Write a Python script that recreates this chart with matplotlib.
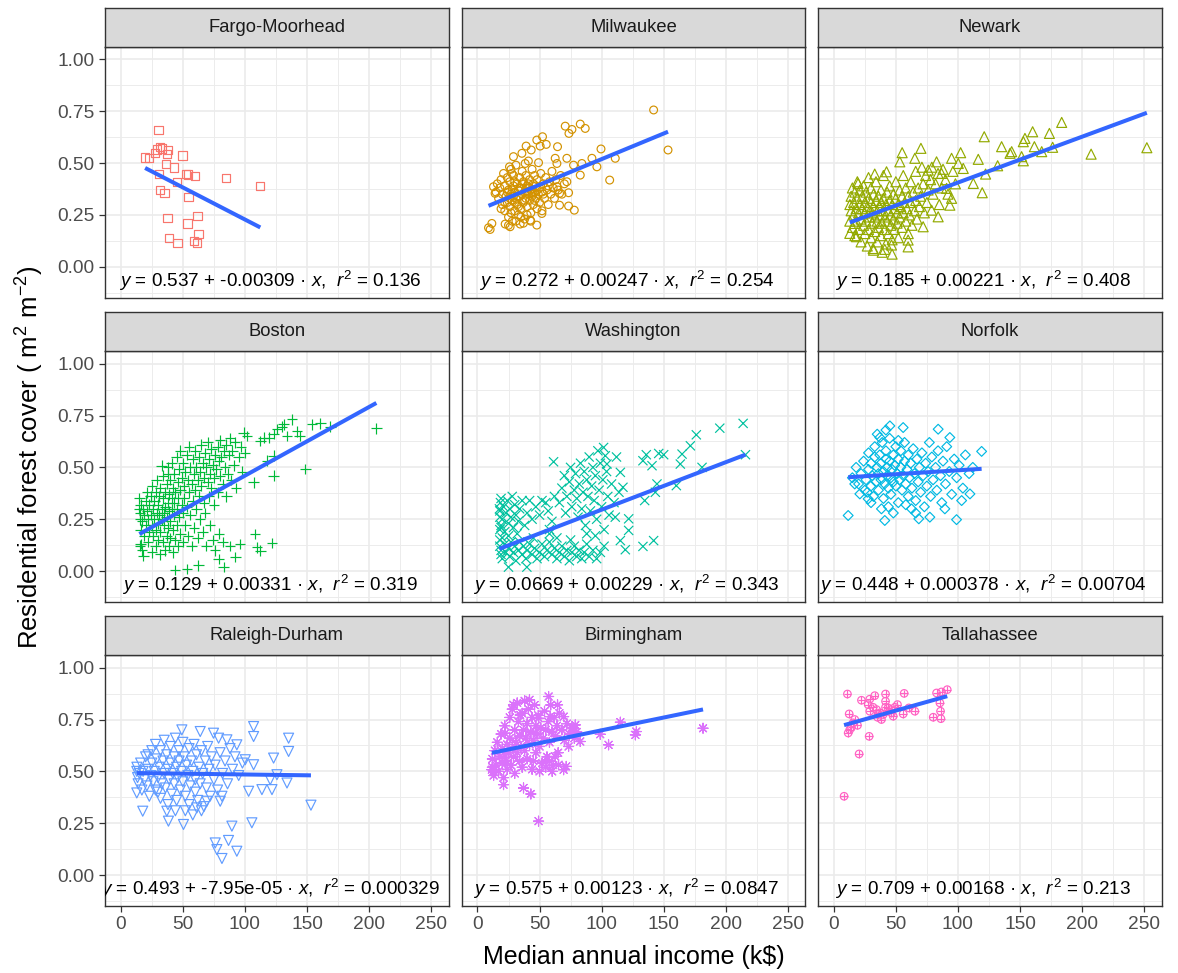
import numpy as np
import matplotlib
matplotlib.use("Agg")
import matplotlib.pyplot as plt

plt.rcParams['font.family'] = ['Liberation Sans', 'DejaVu Sans']
plt.rcParams['mathtext.fontset'] = 'custom'
plt.rcParams['mathtext.rm'] = 'Liberation Sans'
plt.rcParams['mathtext.it'] = 'Liberation Sans:italic'
plt.rcParams['mathtext.bf'] = 'Liberation Sans:bold'

# ---------------- data ----------------
cities = ["Fargo-Moorhead", "Milwaukee", "Newark", "Boston", "Washington",
          "Norfolk", "Raleigh-Durham", "Birmingham", "Tallahassee"]
colors = ["#F8766D", "#D39200", "#93AA00", "#00BA38", "#00C19F",
          "#00B9E3", "#619CFF", "#DB72FB", "#FF61C3"]
intercepts = [0.537, 0.272, 0.185, 0.129, 0.0669, 0.448, 0.493, 0.575, 0.709]
slopes = [-0.00309, 0.00247, 0.00221, 0.00331, 0.00229, 0.000378, -7.95e-05, 0.00123, 0.00168]
intercept_labels = ["0.537", "0.272", "0.185", "0.129", "0.0669", "0.448", "0.493", "0.575", "0.709"]
slope_labels = ["-0.00309", "0.00247", "0.00221", "0.00331", "0.00229", "0.000378", "-7.95e-05", "0.00123", "0.00168"]
r2_labels = ["0.136", "0.254", "0.408", "0.319", "0.343", "0.00704", "0.000329", "0.0847", "0.213"]

x_ticks = [0, 50, 100, 150, 200, 250]
x_tick_labels = ["0", "50", "100", "150", "200", "250"]
y_ticks = [0.00, 0.25, 0.50, 0.75, 1.00]
y_tick_labels = ["0.00", "0.25", "0.50", "0.75", "1.00"]

fargo = [(30.4,0.659),(31.7,0.576),(29.0,0.566),(33.0,0.571),(37.9,0.563),(37.0,0.543),(27.7,0.547),
         (19.6,0.527),(23.0,0.523),(49.7,0.537),(36.3,0.494),(43.0,0.479),(30.9,0.447),(45.2,0.410),
         (52.7,0.447),(54.3,0.445),(59.9,0.439),(84.7,0.429),(112.4,0.389),(31.7,0.370),(35.2,0.357),
         (54.6,0.338),(37.6,0.236),(53.8,0.209),(61.8,0.244),(62.6,0.158),(39.0,0.140),(45.7,0.116),
         (59.1,0.125),(61.3,0.116)]

milwaukee = [(141.9,0.756),(153.5,0.563),(70.7,0.678),(73.7,0.643),(76.1,0.662),(82.8,0.688),(86.8,0.667),
             (52.4,0.627),(47.8,0.611),(50.5,0.582),(55.4,0.590),(64.5,0.579),(39.2,0.582),(43.3,0.563),
             (35.8,0.547),(29.0,0.531),(99.5,0.568),(111.0,0.523),(92.2,0.523),(96.2,0.482),(106.5,0.418),
             (82.8,0.442),(77.4,0.490),(84.1,0.498),(72.0,0.523),(62.6,0.523),(64.0,0.498),(72.0,0.410),
             (73.4,0.357),(66.1,0.297),(73.4,0.293),(78.0,0.273),(66.1,0.354),(64.0,0.386),(8.9,0.188),
             (11.6,0.209),(10.2,0.180),(47.8,0.201),(26.3,0.193),(22.3,0.206),(34.4,0.206),(42.5,0.225),
             (51.9,0.257),(12.9,0.386),(14.2,0.354),(49.2,0.502),(38.4,0.498),(25.8,0.482),(27.7,0.450),
             (15,0.36),(16,0.40),(17,0.33),(18,0.38),(19,0.42),(20,0.35),(20,0.30),(21,0.45),(22,0.39),
             (22,0.27),(23,0.34),(24,0.43),(24,0.31),(25,0.37),(25,0.24),(26,0.41),(26,0.29),(27,0.35),
             (27,0.47),(28,0.32),(28,0.22),(29,0.39),(29,0.44),(30,0.36),(30,0.27),(31,0.33),(31,0.49),
             (32,0.40),(32,0.30),(33,0.37),(33,0.25),(34,0.43),(34,0.34),(35,0.38),(35,0.28),(36,0.46),
             (36,0.35),(37,0.41),(37,0.31),(38,0.36),(38,0.23),(39,0.44),(39,0.33),(40,0.39),(40,0.29),
             (41,0.35),(41,0.51),(42,0.42),(42,0.32),(43,0.37),(43,0.26),(44,0.47),(44,0.34),(45,0.40),
             (45,0.30),(46,0.36),(46,0.44),(47,0.33),(47,0.39),(48,0.28),(48,0.42),(49,0.35),(50,0.38),
             (50,0.31),(51,0.45),(52,0.36),(52,0.27),(53,0.40),(54,0.33),(55,0.43),(56,0.37),(57,0.30),
             (58,0.41),(59,0.35),(60,0.46),(61,0.38),(62,0.33),(63,0.42),(65,0.37),(67,0.44),(68,0.35),
             (70,0.40),(28,0.37),(30,0.41),(32,0.34),(34,0.38),(36,0.40),(38,0.32),(40,0.36),(42,0.38),
             (44,0.36),(46,0.32),(30,0.31),(33,0.29),(27,0.26),(35,0.24),(37,0.21),(25,0.20),(31,0.22),
             (40,0.25),(43,0.22),(22,0.31),(19,0.28),(24,0.36),(26,0.33),(29,0.34),(39,0.38),(41,0.40),
             (45,0.35),(48,0.37),(53,0.35),(57,0.39)]

newark = [(252.2,0.574),(207.3,0.543),(183.6,0.696),(173.7,0.643),(160.2,0.651),(154.0,0.619),(152.7,0.603),
          (161.6,0.579),(176.3,0.576),(167.5,0.555),(151.3,0.531),(143.3,0.555),(135.2,0.579),(142.0,0.547),
          (152.7,0.511),(132.0,0.487),(121.2,0.627),(116.4,0.518),(122.3,0.447),(112.4,0.402),(119.6,0.357),
          (102.2,0.550),(94.9,0.523),(100.3,0.498),(104.3,0.474),(82.8,0.506),(70.2,0.571),(55.1,0.550),
          (53.2,0.506),(65.3,0.523),(76.1,0.466),(86.8,0.450),(94.9,0.330),(93.5,0.297),(90.9,0.378),
          (12.9,0.161),(18.3,0.145),(31.7,0.088),(41.1,0.084),(47.0,0.061),(59.9,0.096),(46.5,0.105),
          (16.9,0.209),(19.6,0.402),(33.0,0.447),(42.5,0.458),(78.8,0.273),(84.1,0.241),(72.0,0.193),
          (59.9,0.129),
          (12.9,0.22),(13,0.30),(14,0.27),(14,0.34),(15,0.19),(15,0.38),(16,0.25),(16,0.31),(17,0.15),
          (17,0.36),(18,0.22),(18,0.28),(19,0.33),(19,0.41),(20,0.18),(20,0.26),(21,0.30),(21,0.37),
          (22,0.12),(22,0.23),(23,0.28),(23,0.34),(24,0.20),(24,0.39),(25,0.16),(25,0.26),(25,0.31),
          (26,0.22),(26,0.36),(27,0.10),(27,0.29),(28,0.18),(28,0.33),(28,0.43),(29,0.24),(29,0.27),
          (30,0.14),(30,0.31),(30,0.38),(31,0.21),(31,0.26),(32,0.08),(32,0.29),(32,0.35),(33,0.17),
          (33,0.24),(34,0.32),(34,0.41),(35,0.12),(35,0.27),(35,0.22),(36,0.19),(36,0.34),(37,0.29),
          (37,0.25),(38,0.15),(38,0.37),(38,0.31),(39,0.21),(39,0.07),(40,0.27),(40,0.33),(40,0.44),
          (41,0.18),(41,0.24),(42,0.30),(42,0.11),(43,0.36),(43,0.22),(44,0.27),(44,0.16),(45,0.32),
          (45,0.39),(46,0.20),(46,0.25),(47,0.13),(47,0.30),(48,0.35),(48,0.23),(49,0.28),(49,0.18),
          (50,0.33),(50,0.41),(51,0.26),(51,0.21),(52,0.30),(52,0.14),(53,0.37),(53,0.24),(54,0.29),
          (55,0.19),(55,0.34),(56,0.44),(56,0.26),(57,0.31),(58,0.22),(58,0.38),(59,0.28),(60,0.16),
          (60,0.34),(61,0.25),(62,0.41),(62,0.31),(63,0.20),(64,0.36),(65,0.27),(66,0.46),(66,0.32),
          (67,0.23),(68,0.38),(69,0.29),(70,0.34),(71,0.48),(72,0.40),(73,0.26),(74,0.44),(75,0.31),
          (76,0.37),(78,0.42),(79,0.48),(80,0.35),(82,0.40),(84,0.45),(85,0.30),(87,0.38),(88,0.47),
          (90,0.42),(92,0.35),(96,0.46),(98,0.40)]

boston = [(205.9,0.688),(168.8,0.696),(160.8,0.712),(154.0,0.708),(137.9,0.732),(131.2,0.708),(125.8,0.684),
          (129.8,0.696),(141.9,0.673),(144.1,0.652),(133.9,0.652),(123.1,0.660),(115.1,0.644),(112.4,0.628),
          (119.1,0.644),(148.7,0.492),(123.1,0.460),(123.1,0.556),(117.7,0.532),(107.0,0.428),(108.3,0.179),
          (121.8,0.135),(112.4,0.099),(109.7,0.115),(92.2,0.067),(82.8,0.019),(78.8,0.059),(62.6,0.027),
          (53.2,0.011),(43.8,0.006),(18.3,0.075),(15.6,0.123),(33.0,0.508),(38.4,0.468),(101.6,0.652),
          (99.0,0.668),
          (15,0.30),(15.5,0.25),(16,0.13),(15,0.35),(15.5,0.28),(16,0.20),(16,0.32),(17,0.24),(17,0.10),
          (18,0.30),(19,0.27),(19,0.17),(20,0.34),(20,0.22),
          (21,0.29),(21,0.38),(22,0.25),(22,0.14),(23,0.32),(23,0.19),(24,0.36),(24,0.27),(25,0.22),
          (25,0.41),(25,0.09),(26,0.30),(26,0.17),(27,0.34),(27,0.25),(28,0.38),(28,0.20),(28,0.12),
          (29,0.28),(29,0.44),(30,0.32),(30,0.23),(30,0.15),
          (31,0.36),(31,0.27),(32,0.40),(32,0.19),(32,0.08),(33,0.30),(33,0.25),(34,0.46),(34,0.35),
          (34,0.14),(35,0.28),(35,0.22),(36,0.38),(36,0.31),(36,0.10),(37,0.42),(37,0.26),(37,0.17),
          (38,0.33),(38,0.50),(38,0.21),(39,0.37),(39,0.29),(39,0.12),(40,0.44),(40,0.24),(40,0.16),
          (41,0.35),(41,0.52),(41,0.30),(42,0.40),(42,0.20),(42,0.09),(43,0.47),(43,0.27),(43,0.33),
          (44,0.38),(44,0.15),(45,0.55),(45,0.30),(45,0.22),(46,0.43),(46,0.35),(46,0.12),(47,0.49),
          (47,0.26),(48,0.39),(48,0.18),(48,0.58),(49,0.32),(49,0.45),(50,0.52),(50,0.28),(50,0.14),
          (51,0.41),(51,0.35),(52,0.48),(52,0.22),(53,0.56),(53,0.31),(54,0.44),(54,0.17),(55,0.38),
          (55,0.60),(56,0.50),(56,0.27),(57,0.42),(57,0.12),(58,0.54),(58,0.34),(59,0.47),(59,0.21),
          (60,0.58),(60,0.39),
          (61,0.30),(61,0.50),(62,0.44),(62,0.16),(63,0.55),(63,0.36),(64,0.48),(64,0.25),(65,0.61),
          (65,0.41),(66,0.52),(66,0.19),(67,0.45),(67,0.33),(68,0.57),(68,0.28),(69,0.50),(69,0.12),
          (70,0.43),(70,0.62),
          (71,0.36),(71,0.54),(72,0.47),(72,0.22),(73,0.59),(73,0.40),(74,0.51),(74,0.15),(75,0.45),
          (75,0.32),(76,0.56),(76,0.10),(77,0.49),(78,0.60),(78,0.38),(79,0.53),(79,0.18),(80,0.46),
          (80,0.63),
          (81,0.55),(82,0.42),(82,0.14),(83,0.58),(84,0.50),(85,0.61),(85,0.36),(86,0.47),(87,0.56),
          (88,0.64),(88,0.12),(89,0.44),(90,0.58),(91,0.51),(92,0.62),(93,0.40),(95,0.55),(96,0.13),
          (97,0.60),(98,0.48),(100,0.57)]

washington = [(214.0,0.712),(215.9,0.561),(195.2,0.689),(176.3,0.657),(171.5,0.604),(164.8,0.564),
              (163.4,0.516),(160.2,0.412),(180.9,0.500),(150.0,0.561),(146.0,0.567),(136.0,0.561),
              (140.6,0.508),(133.3,0.532),(144.6,0.420),(143.3,0.380),(134.7,0.340),(141.9,0.147),
              (133.3,0.119),(121.8,0.252),(121.8,0.196),(119.1,0.103),(115.1,0.147),(111.0,0.260),
              (101.6,0.596),(61.3,0.527),(103.0,0.556),(115.1,0.476),(117.2,0.404),(104.3,0.516),
              (25.0,0.019),(39.8,0.019),
              (17.7,0.30),(18,0.26),(18.5,0.33),(19,0.22),(18,0.29),(19,0.35),(20,0.25),(21,0.31),
              (22,0.19),(23,0.28),(24,0.34),(25,0.23),(26,0.30),(27,0.26),(28,0.36),(29,0.21),(30,0.32),
              (31,0.27),(33,0.24),(34,0.30),(36,0.34),(38,0.22),(40,0.28),(42,0.34),(44,0.25),(47,0.31),
              (50,0.27),(52,0.34),(18,0.20),(25,0.17),(32,0.18),(19,0.21),(20,0.16),
              (18,0.12),(19,0.08),(18,0.15),(19,0.10),(20,0.06),(22,0.13),(23,0.09),(25,0.11),(26,0.07),
              (27,0.14),(29,0.09),(30,0.12),(31,0.05),(33,0.10),(34,0.14),(36,0.08),(37,0.12),(39,0.06),
              (40,0.10),(42,0.13),(44,0.08),(46,0.11),(48,0.06),(50,0.09),(52,0.13),(54,0.07),(56,0.10),
              (58,0.14),(60,0.08),(62,0.11),(64,0.06),(66,0.09),(68,0.12),(70,0.07),(72,0.10),(74,0.05),
              (76,0.09),(78,0.12),(80,0.07),(82,0.10),(84,0.06),(86,0.09),(88,0.13),(90,0.07),(93,0.10),
              (96,0.06),(99,0.09),(102,0.12),(58,0.18),(64,0.16),(45,0.16),(75,0.15),
              (66,0.33),(68,0.40),(70,0.46),(71,0.28),(72,0.36),(74,0.43),(75,0.50),(76,0.31),(78,0.39),
              (79,0.47),(80,0.35),(81,0.26),(82,0.42),(83,0.52),(84,0.30),(85,0.38),(86,0.48),(87,0.22),
              (88,0.44),(89,0.36),(90,0.55),(91,0.29),(92,0.41),(93,0.50),(94,0.34),(95,0.46),(96,0.25),
              (97,0.58),(98,0.39),(99,0.52),(100,0.31),(101,0.44),(102,0.20),(104,0.48),(105,0.36),
              (106,0.27),(108,0.42),(110,0.33),(112,0.55),(114,0.38),(60,0.24),(62,0.36),(57,0.29),
              (55,0.33),(58,0.20),(88,0.18),(95,0.17)]

norfolk = [(11.6,0.268),(119.1,0.577),(41.1,0.244),(98.9,0.248),(77.4,0.260),(68.5,0.252),(62.6,0.300),
           (38.4,0.300),(84.1,0.684),(55.9,0.692),(45.2,0.700),(37.1,0.644),(93.5,0.644),(109.7,0.372),
           (103.0,0.340),(89.5,0.300),(21.0,0.372),(16.9,0.420),(27.7,0.348),
           (15,0.45),(18,0.50),(20,0.42),(22,0.47),(24,0.53),(25,0.39),(26,0.44),(28,0.57),(28,0.49),
           (30,0.41),(30,0.52),(31,0.46),(32,0.36),(33,0.55),(33,0.60),(34,0.43),(35,0.50),(36,0.47),
           (36,0.39),(37,0.56),(38,0.44),(38,0.52),(39,0.62),(40,0.48),(40,0.35),(41,0.42),(42,0.54),
           (42,0.58),(43,0.46),(43,0.50),(44,0.40),(45,0.53),(45,0.64),(46,0.45),(46,0.37),(47,0.49),
           (48,0.56),(48,0.43),(49,0.51),(50,0.60),(50,0.41),(51,0.47),(52,0.54),(52,0.33),(53,0.44),
           (54,0.58),(54,0.50),(55,0.39),(56,0.46),(57,0.62),(57,0.53),(58,0.42),(59,0.49),(60,0.56),
           (60,0.36),(61,0.45),(62,0.52),(63,0.40),(64,0.59),(65,0.47),(66,0.34),(67,0.54),(68,0.43),
           (69,0.50),(70,0.38),(71,0.57),(72,0.46),(73,0.31),(74,0.52),(75,0.41),(76,0.48),(77,0.62),
           (78,0.36),(79,0.55),(80,0.44),(82,0.50),(83,0.39),(84,0.58),(86,0.46),(87,0.33),(88,0.53),
           (90,0.42),(91,0.60),(93,0.48),(95,0.37),(97,0.54),(99,0.45),(101,0.51),(104,0.40),(106,0.56),
           (109,0.47),(112,0.50),(35,0.66),(42,0.68),(52,0.63),(27,0.38),(30,0.33),(44,0.31),(66,0.28),
           (58,0.32),(48,0.28)]

raleigh = [(153.2,0.337),(135.2,0.660),(135.2,0.596),(107.0,0.716),(107.0,0.668),(123.1,0.564),(133.9,0.444),
           (125.8,0.484),(120.4,0.460),(113.7,0.412),(121.8,0.412),(103.0,0.404),(107.0,0.532),(100.3,0.556),
           (93.5,0.628),(85.5,0.652),(89.5,0.236),(105.6,0.252),(86.8,0.167),(93.5,0.115),(76.1,0.155),
           (77.4,0.123),(81.5,0.080),(17.7,0.308),(37.1,0.308),(38.4,0.260),(50.5,0.244),(12.9,0.396),
           (49.2,0.700),(64.0,0.692),(74.7,0.684),(78.8,0.660),(80.1,0.356),(81.5,0.380),(69.4,0.356),
           (61.3,0.324),
           (12.9,0.50),(13.5,0.47),(13,0.52),(14,0.44),(15,0.49),(16,0.54),(17,0.41),(18,0.50),(19,0.46),
           (20,0.57),(21,0.43),(22,0.51),(23,0.38),(24,0.48),(25,0.60),(25,0.54),(26,0.45),(27,0.50),
           (28,0.41),(28,0.63),(29,0.56),(30,0.47),(31,0.52),(32,0.37),(32,0.60),(33,0.44),(34,0.55),
           (35,0.49),(35,0.65),(36,0.42),(37,0.58),(38,0.51),(38,0.34),(39,0.46),(40,0.62),(40,0.54),
           (41,0.39),(42,0.49),(43,0.57),(43,0.44),(44,0.66),(45,0.52),(45,0.36),(46,0.47),(47,0.60),
           (47,0.55),(48,0.41),(49,0.50),(50,0.64),(50,0.45),(51,0.57),(52,0.38),(53,0.53),(54,0.48),
           (55,0.61),(55,0.34),(56,0.43),(57,0.55),(58,0.50),(59,0.63),(60,0.40),(60,0.46),(61,0.58),
           (62,0.36),(63,0.52),(64,0.44),(65,0.60),(66,0.49),(67,0.33),(68,0.55),(69,0.42),(70,0.62),
           (71,0.51),(72,0.38),(73,0.57),(75,0.46),(76,0.53),(78,0.41),(80,0.59),(82,0.49),(84,0.55),
           (86,0.44),(88,0.61),(90,0.51),(92,0.57),(95,0.48),(98,0.54),(30,0.40),(22,0.58),(44,0.31),
           (52,0.31),(58,0.29),(65,0.31)]

birmingham = [(181.7,0.708),(128.0,0.692),(127.2,0.676),(115.1,0.737),(105.6,0.628),(98.9,0.679),(82.8,0.644),
              (73.4,0.620),(57.3,0.861),(64.5,0.821),(41.9,0.845),(29.0,0.821),(49.2,0.260),(43.0,0.391),
              (37.1,0.420),(21.0,0.436),(12.9,0.500),(11.6,0.508),(69.4,0.508),(71.5,0.524),(65.3,0.532),
              (62.6,0.572),(60.2,0.500),(77.4,0.708),(78.8,0.724),(69.4,0.764),(58.6,0.764),(49.2,0.756),
              (34.4,0.772),(22.3,0.684),
              (12,0.52),(12,0.56),(13,0.48),(14,0.60),(15,0.53),(16,0.64),(17,0.50),(18,0.57),(19,0.68),
              (20,0.54),(20,0.61),(21,0.47),(22,0.58),(22,0.72),(23,0.55),(24,0.63),(24,0.51),(25,0.59),
              (26,0.66),(26,0.76),(27,0.53),(28,0.61),(28,0.80),(29,0.57),(30,0.70),(30,0.49),(31,0.64),
              (32,0.59),(32,0.83),(33,0.74),(34,0.55),(34,0.67),(35,0.62),(36,0.78),(36,0.52),(37,0.70),
              (38,0.60),(38,0.84),(39,0.66),(40,0.73),(40,0.56),(41,0.80),(42,0.63),(43,0.69),(44,0.76),
              (44,0.51),(45,0.65),(46,0.82),(47,0.59),(47,0.72),(48,0.68),(49,0.77),(50,0.62),(51,0.71),
              (52,0.54),(53,0.66),(54,0.79),(55,0.70),(56,0.57),(57,0.74),(58,0.64),(59,0.82),(60,0.69),
              (61,0.53),(62,0.76),(63,0.67),(64,0.72),(65,0.59),(66,0.78),(68,0.70),(70,0.65),(72,0.73),
              (74,0.68),(76,0.71),(78,0.66),(80,0.69),(55,0.52),(50,0.50),(45,0.55),(58,0.55)]

tallahassee = [(11.0,0.873),(8.3,0.380),(20.4,0.584),(28.5,0.669),(11.6,0.685),(12.4,0.777),(14.2,0.713),
               (16.9,0.750),(19.1,0.722),(15.6,0.734),(12.9,0.701),(22.3,0.843),(29.0,0.848),(33.0,0.865),
               (41.7,0.873),(56.7,0.876),(27.7,0.822),(31.7,0.809),(29.0,0.790),(34.4,0.798),(37.1,0.782),
               (35.2,0.761),(38.4,0.750),(41.7,0.838),(41.7,0.809),(43.8,0.806),(46.0,0.798),(47.9,0.766),
               (51.3,0.822),(49.2,0.809),(55.9,0.777),(60.5,0.806),(65.3,0.790),(82.8,0.878),(86.8,0.883),
               (91.4,0.894),(85.5,0.830),(86.0,0.790),(80.1,0.761),(86.3,0.754),(46.5,0.782),(39.8,0.774),
               (35.7,0.774)]

city_points = [fargo, milwaukee, newark, boston, washington, norfolk, raleigh, birmingham, tallahassee]

# ---------------- styling ----------------
# (marker, markersize in points, is_filled_shape)
marker_styles = [("s", 6.0, True), ("o", 5.6, True), ("^", 7.2, True), ("+", 7.6, False),
                 ("x", 6.6, False), ("D", 5.0, True), ("v", 7.2, True), ((8, 2, 0), 7.2, False),
                 ("o", 5.4, True)]

W, H = 1178, 973
fig = plt.figure(figsize=(W / 100, H / 100), dpi=100)
col_left = [105, 461.7, 818]
panel_w = 343.5
row_bottom = [297.7, 602, 906]
panel_h = 251
strip_h = 39
xlim = (-12.7, 264)
ylim = (-0.149, 1.061)
dark = "#333333"

for i, city in enumerate(cities):
    r, c = divmod(i, 3)
    l = col_left[c]
    b = row_bottom[r]
    ax = fig.add_axes([l / W, 1 - b / H, panel_w / W, panel_h / H])
    sax = fig.add_axes([l / W, 1 - (b - panel_h) / H, panel_w / W, strip_h / H])

    # strip
    sax.set_facecolor("#D9D9D9")
    sax.set_xticks([]); sax.set_yticks([])
    for sp in sax.spines.values():
        sp.set_color(dark); sp.set_linewidth(1.0)
    sax.text(0.5, 0.5, city, ha="center", va="center", fontsize=13.2,
             color="#1A1A1A", transform=sax.transAxes)

    # panel
    ax.set_xlim(*xlim); ax.set_ylim(*ylim)
    ax.set_xticks(x_ticks)
    ax.set_xticks([25, 75, 125, 175, 225], minor=True)
    ax.set_yticks(y_ticks)
    ax.set_yticks([-0.125, 0.125, 0.375, 0.625, 0.875], minor=True)
    ax.grid(which="major", color="#EBEBEB", linewidth=1.2, zorder=0)
    ax.grid(which="minor", color="#EBEBEB", linewidth=0.65, zorder=0)
    ax.set_axisbelow(True)
    for sp in ax.spines.values():
        sp.set_color(dark); sp.set_linewidth(1.0)
    ax.tick_params(which="minor", length=0)
    if c == 0:
        ax.set_yticklabels(y_tick_labels)
        ax.tick_params(axis="y", which="major", length=4.5, width=0.9, color=dark,
                       labelcolor="#4D4D4D", labelsize=13.8, pad=3)
    else:
        ax.tick_params(axis="y", which="major", length=0, labelleft=False)
    if r == 2:
        ax.set_xticklabels(x_tick_labels)
        ax.tick_params(axis="x", which="major", length=4.5, width=0.9, color=dark,
                       labelcolor="#4D4D4D", labelsize=13.8, pad=3)
    else:
        ax.tick_params(axis="x", which="major", length=0, labelbottom=False)

    pts = np.array(city_points[i])
    xs, ys = pts[:, 0], pts[:, 1]
    mk, ms, filled = marker_styles[i]
    col = colors[i]
    if filled:
        ax.scatter(xs, ys, s=ms ** 2, marker=mk, facecolors="none", edgecolors=col,
                   linewidths=0.85, zorder=3)
    else:
        ax.scatter(xs, ys, s=ms ** 2, marker=mk, c=[col] * len(xs),
                   linewidths=0.85, zorder=3)
    if i == 8:
        ax.scatter(xs, ys, s=ms ** 2, marker="+", c=[col] * len(xs),
                   linewidths=0.85, zorder=3)

    # fitted line
    xl = np.array([xs.min(), xs.max()])
    ax.plot(xl, intercepts[i] + slopes[i] * xl, color="#3366FF", linewidth=2.9,
            solid_capstyle="butt", zorder=4)

    eq = (f"$y$ = {intercept_labels[i]} + {slope_labels[i]} \u00b7 $x$,  "
          f"$r^2$ = {r2_labels[i]}")
    ax.text(120, -0.067, eq, ha="center", va="center", fontsize=13.6,
            color="black", clip_on=True, zorder=5)

fig.text(30 / W, 1 - 457 / H, r"Residential forest cover ( $\mathrm{m}^{2}$ $\mathrm{m}^{-2}$)",
         rotation=90, ha="center", va="center", fontsize=18.5, color="black")
fig.text(633.5 / W, 1 - 957 / H, "Median annual income (k$)",
         ha="center", va="center", fontsize=18, color="black")

fig.savefig("out.png", dpi=100)
